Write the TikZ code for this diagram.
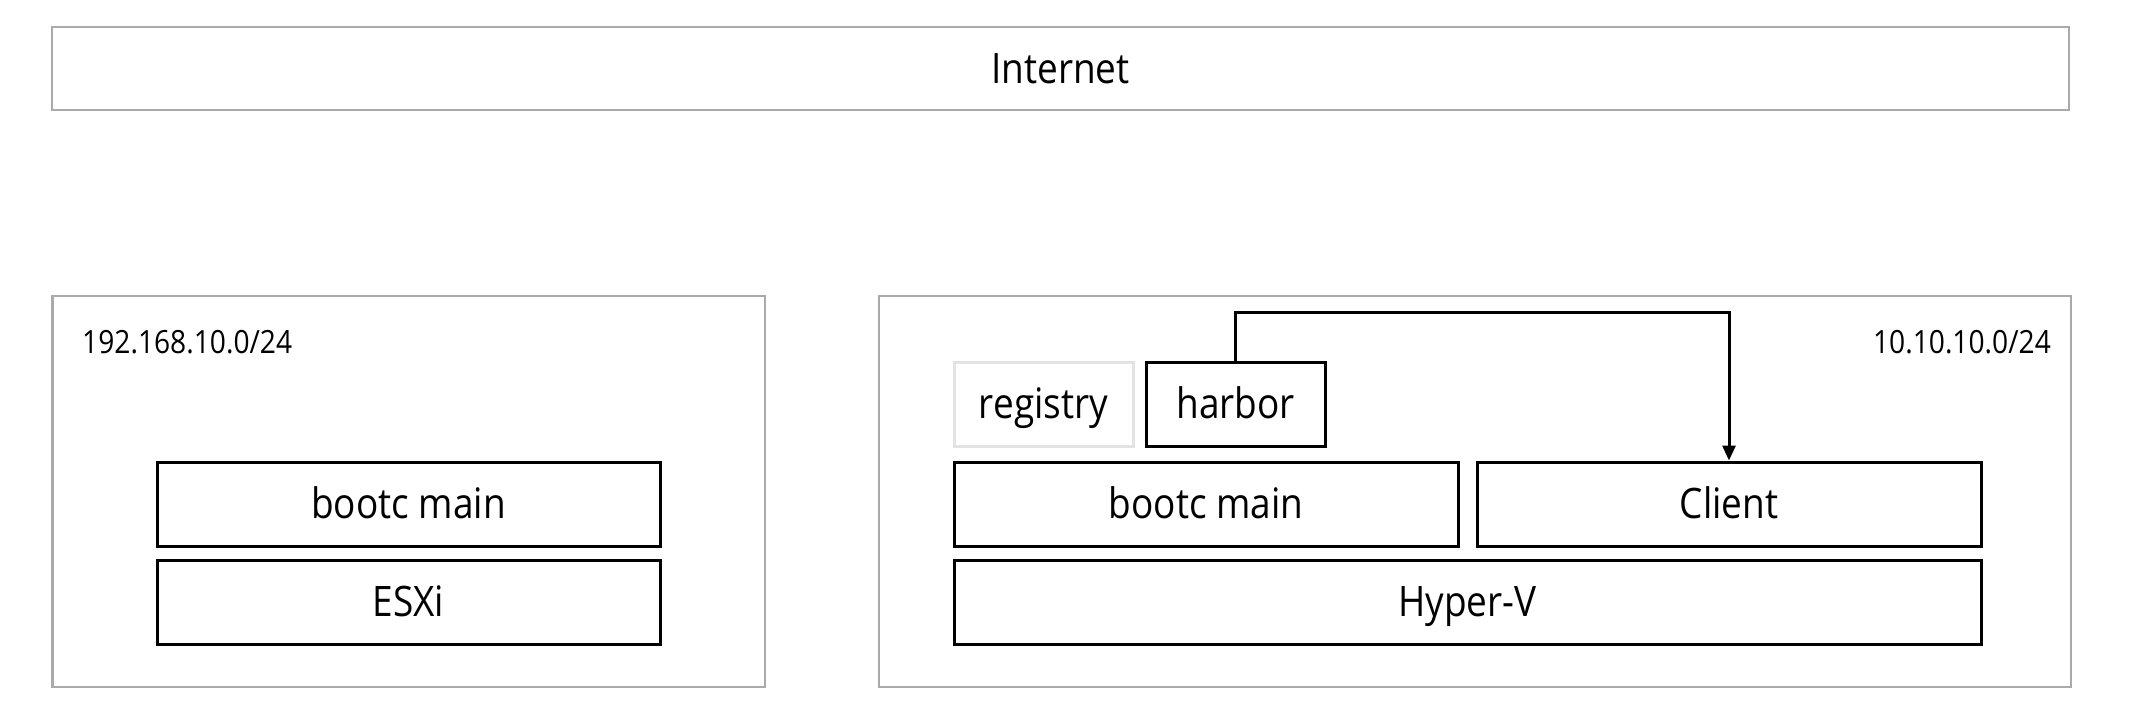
\documentclass[tikz,border=0pt]{standalone}
\usepackage{fontspec}
\setmainfont[FakeStretch=0.88]{Open Sans}
\usetikzlibrary{arrows.meta}
\definecolor{netgray}{HTML}{AAAAAA}
\definecolor{reggray}{HTML}{E3E3E3}
\tikzset{
  bigtext/.style={font=\fontsize{42}{50}\selectfont, text height=37pt, text depth=8pt},
  netbox/.style={draw=netgray, line width=2.5pt, rectangle, inner sep=0pt},
  hostbox/.style={draw=black, line width=3pt, rectangle, inner sep=0pt, minimum height=84pt, bigtext},
  regbox/.style={hostbox, draw=reggray},
  netlabel/.style={inner sep=0pt, font=\fontsize{32}{38}\selectfont},
  link/.style={draw=black, line width=3pt, -{Triangle[length=15pt,width=13pt]}}
}
\begin{document}
\begin{tikzpicture}[x=1pt,y=-1pt]
\useasboundingbox (0,0) rectangle (2156,724);
\node[netbox, minimum width=2017pt, minimum height=83pt, bigtext] (inet) at (1060.5,68.5) {Internet};
\node[netbox, minimum width=712.5pt, minimum height=391pt] (lnet) at (408.75,491.5) {};
\node[netbox, minimum width=1192pt, minimum height=391pt] (rnet) at (1475,491.5) {};
\node[netlabel, anchor=base west] (lnetlbl) at (82,353) {192.168.10.0/24};
\node[netlabel, anchor=base east] (rnetlbl) at (2051,353) {10.10.10.0/24};
\node[hostbox, minimum width=503pt] (lboot) at (408.5,504) {bootc main};
\node[hostbox, minimum width=503pt] (esxi) at (408.5,602) {ESXi};
\node[regbox, minimum width=179pt] (reg) at (1043.5,404) {registry};
\node[hostbox, minimum width=179pt] (harbor) at (1235.5,404) {harbor};
\node[hostbox, minimum width=504pt] (rboot) at (1206,504) {bootc main};
\node[hostbox, minimum width=504pt] (client) at (1729,504) {Client};
\node[hostbox, minimum width=1027pt] (hyperv) at (1467.5,602) {Hyper-V};
\coordinate (c1) at (harbor.north |- 0,312);
\coordinate (c2) at (client.north |- 0,312);
\draw[link] (harbor.north) -- (c1) -- (c2) -- (client.north);
\end{tikzpicture}
\end{document}
